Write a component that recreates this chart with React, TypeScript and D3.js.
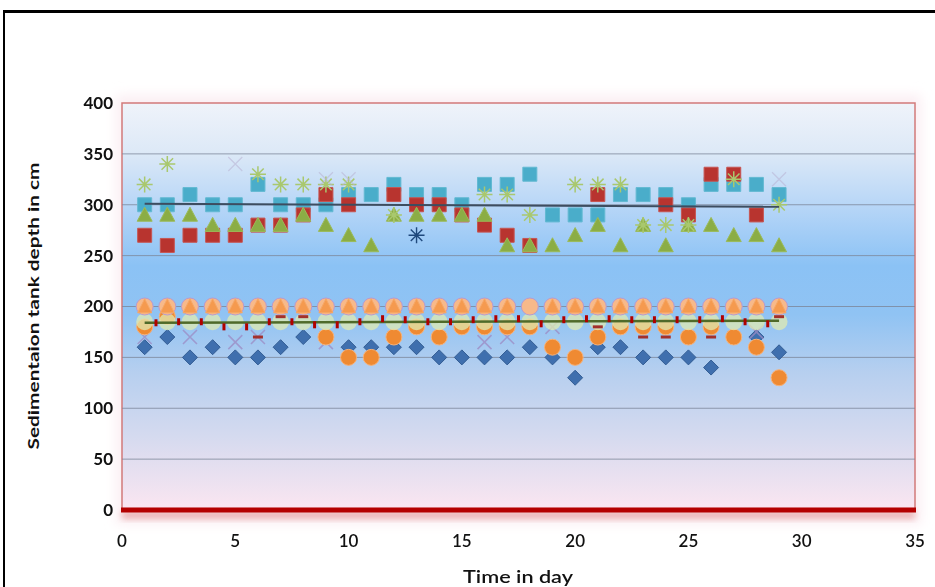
import React from 'react';
import * as d3 from 'd3';

// ---------- data ----------
const days = [1,2,3,4,5,6,7,8,9,10,11,12,13,14,15,16,17,18,19,20,21,22,23,24,25,26,27,28,29];
const xTicks = [0,5,10,15,20,25,30,35];
const yTicks = [0,50,100,150,200,250,300,350,400];

// upper group (sedimentation depth readings ~260-340)
const cyanSquare = [300,300,310,300,300,320,300,300,300,310,310,320,310,310,300,320,320,330,290,290,290,310,310,310,300,320,320,320,310];
const redSquare = [270,260,270,270,270,280,280,290,310,300,null,310,300,300,290,280,270,260,null,null,310,null,null,300,290,330,330,290,null];
const greenTriangle = [290,290,290,280,280,280,280,290,280,270,260,290,290,290,290,290,260,260,260,270,280,260,280,260,280,280,270,270,260];
const greenStar = [320,340,null,null,null,330,320,320,320,320,null,290,null,null,null,310,310,290,null,320,320,320,280,280,280,null,325,null,300];
const lavenderX = [null,null,null,null,340,null,null,null,325,325,null,null,null,null,null,null,null,null,null,null,null,null,null,null,null,null,null,null,325];
const navyStar = [null,null,null,null,null,null,null,null,null,null,null,null,270,null,null,null,null,null,null,null,null,null,null,null,null,null,null,null,null];

// lower group (~130-200)
const blueDiamond = [160,170,150,160,150,150,160,170,170,160,160,160,160,150,150,150,150,160,150,130,160,160,150,150,150,140,170,170,155];
const purpleX = [170,null,170,null,165,170,null,null,165,null,null,null,null,null,null,165,170,null,180,null,null,null,null,null,null,null,null,175,null];
const orangeCircle = [180,190,200,200,200,200,200,200,170,150,150,170,180,170,180,180,180,180,160,150,170,180,180,180,170,180,170,160,130];
const paleCircle = [185,185,185,185,185,185,185,185,185,185,185,185,185,185,185,185,185,185,185,185,185,185,185,185,185,185,185,185,185];
const peachCircle = [200,200,200,200,200,200,200,200,200,200,200,200,200,200,200,200,200,200,200,200,200,200,200,200,200,200,200,200,200];
const orangeTriangle = [200,200,200,200,200,200,200,200,200,200,200,200,200,200,200,200,200,null,200,200,200,200,200,200,200,200,200,200,200];
const redDash = [null,null,null,null,null,170,190,190,null,null,null,null,null,null,null,null,null,null,null,null,180,null,170,170,null,170,null,null,190];

const halfDays = [1.5,2.5,3.5,4.5,5.5,6.5,7.5,8.5,9.5,10.5,11.5,12.5,13.5,14.5,15.5,16.5,17.5,18.5,19.5,20.5,21.5,22.5,23.5,24.5,25.5,26.5,27.5,28.5];
const redTick = [184,185,185,180,180,185,185,182,182,185,188,187,185,185,187,188,188,183,187,188,188,187,187,187,187,188,185,183];

const trendDays = [1, 29];
const upperTrend = [301, 298];
const lowerTrend = [184, 186];

// ---------- chart ----------
const W = 935, H = 587;
const L = 122, R = 915, T = 103, B = 510;

const x = d3.scaleLinear().domain([0, 35]).range([L, R]);
const y = d3.scaleLinear().domain([0, 400]).range([B, T]);

type Pt = [number, number];
const pts = (vals: (number | null)[], xs: number[] = days): Pt[] =>
  vals.map((v, i) => [xs[i], v] as [number, number | null]).filter(p => p[1] != null) as Pt[];

const sq = (s: number) => `M${-s},${-s}h${2 * s}v${2 * s}h${-2 * s}Z`;
const diamond = (s: number) => `M0,${-s}L${s},0L0,${s}L${-s},0Z`;
const tri = (w: number, h: number) => `M0,${-h * 0.55}L${w},${h * 0.45}L${-w},${h * 0.45}Z`;
const star = (s: number) => {
  const d = s * 0.72;
  return `M0,${-s}V${s}M${-s},0H${s}M${-d},${-d}L${d},${d}M${-d},${d}L${d},${-d}`;
};
const cross = (s: number) => `M${-s},${-s}L${s},${s}M${-s},${s}L${s},${-s}`;
const circ = (r: number) => `M${-r},0a${r},${r} 0 1,0 ${2 * r},0a${r},${r} 0 1,0 ${-2 * r},0Z`;

const line = d3.line<Pt>().x(d => x(d[0])).y(d => y(d[1]));

const font = "Lato, 'Open Sans', 'DejaVu Sans', sans-serif";

function Marks({ data, path, fill, stroke, sw = 1, opacity = 1, xs }: any) {
  return (
    <g opacity={opacity}>
      {pts(data, xs).map((p, i) => (
        <path key={i} d={path} transform={`translate(${x(p[0])},${y(p[1])})`} fill={fill} stroke={stroke} strokeWidth={sw} />
      ))}
    </g>
  );
}

export default function App() {
  return (
    <svg width={W} height={H} style={{ position: 'absolute', left: 0, top: 0, background: '#fff' }}>
      <defs>
        <linearGradient id="bg" x1="0" y1="0" x2="0" y2="1">
          <stop offset="0" stopColor="#eff3fa" />
          <stop offset="0.12" stopColor="#dde9f7" />
          <stop offset="0.26" stopColor="#b5d5f7" />
          <stop offset="0.40" stopColor="#8bc2f5" />
          <stop offset="0.52" stopColor="#90c3f3" />
          <stop offset="0.66" stopColor="#b6cfef" />
          <stop offset="0.82" stopColor="#d5daef" />
          <stop offset="1" stopColor="#fbe6f1" />
        </linearGradient>
        <filter id="blur" x="-10%" y="-50%" width="120%" height="200%">
          <feGaussianBlur stdDeviation="3" />
        </filter>
        <filter id="glow" x="-5%" y="-5%" width="110%" height="110%">
          <feGaussianBlur stdDeviation="6" />
        </filter>
      </defs>

      {/* outer frame */}
      <line x1={3} x2={935} y1={11.5} y2={11.5} stroke="#000" strokeWidth={3} />
      <line x1={4} x2={4} y1={10} y2={587} stroke="#000" strokeWidth={2} />

      {/* soft glow around plot */}
      <rect x={L - 6} y={T - 8} width={R - L + 12} height={B - T + 22} fill="#fbeef3" filter="url(#glow)" />

      {/* plot area */}
      <rect x={L} y={T} width={R - L} height={B - T} fill="url(#bg)" stroke="#d27a7a" strokeWidth={1.5} />

      {/* gridlines */}
      {yTicks.filter(t => t > 0 && t < 400).map(t => (
        <line key={t} x1={L} x2={R} y1={y(t)} y2={y(t)} stroke="#7d879a" strokeWidth={1} opacity={0.8} />
      ))}

      {/* bottom bar */}
      <rect x={L} y={B + 1} width={R - L} height={8} fill="#e08a8a" opacity={0.6} filter="url(#blur)" />
      <line x1={L - 1} x2={R + 1} y1={B} y2={B} stroke="#b40000" strokeWidth={5} />

      {/* lower group */}
      <Marks data={blueDiamond} path={diamond(7.5)} fill="#3f6fae" stroke="#335d94" />
      <Marks data={purpleX} path={cross(7)} fill="none" stroke="#9c8bc4" sw={1.6} opacity={0.75} />
      <Marks data={orangeCircle} path={circ(8)} fill="#ef8a32" stroke="#f6b27a" />
      <Marks data={paleCircle} path={circ(8.5)} fill="#e0ebb2" stroke="none" opacity={0.75} />
      <Marks data={peachCircle} path={circ(8.5)} fill="#f7b98a" stroke="#b79ad0" sw={1} />
      <Marks data={orangeTriangle} path={tri(7, 14)} fill="#f59a4f" stroke="#f7a866" />

      {/* upper group */}
      <Marks data={cyanSquare} path={sq(7)} fill="#4aadca" stroke="#63b9d2" />
      <Marks data={redSquare} path={sq(7)} fill="#b8342f" stroke="#c65552" />
      <Marks data={greenTriangle} path={tri(7.5, 14)} fill="#8bad45" stroke="#9bbb59" />
      <Marks data={greenStar} path={star(8)} fill="none" stroke="#a9c86e" sw={1.5} />
      <Marks data={lavenderX} path={cross(7)} fill="none" stroke="#b9b3d3" sw={1.3} opacity={0.55} />
      <Marks data={navyStar} path={star(8)} fill="none" stroke="#1f497d" sw={1.4} />

      {/* trend lines */}
      <path d={line(pts(upperTrend, trendDays)) || ''} stroke="#3d4d60" strokeWidth={2} fill="none" />
      <path d={line(pts(lowerTrend, trendDays)) || ''} stroke="#4f6a2a" strokeWidth={2.5} fill="none" />

      <Marks data={redTick} xs={halfDays} path="M-1.5,-3.5h3v7h-3Z" fill="#b00000" stroke="none" />
      <Marks data={redDash} path="M-5,-1.5h10v3h-10Z" fill="#a3302c" stroke="none" />

      {/* y tick labels */}
      {yTicks.map(t => (
        <text key={t} x={L - 9} y={y(t)} dy="0.35em" textAnchor="end" fontFamily={font} fontWeight={700} fontSize={17} fill="#111">{t}</text>
      ))}
      {/* x tick labels */}
      {xTicks.map(t => (
        <text key={t} x={x(t)} y={541} dy="0.35em" textAnchor="middle" fontFamily={font} fontWeight={600} fontSize={17} fill="#111">{t}</text>
      ))}

      {/* axis titles */}
      <text x={518} y={577} dy="0.35em" textAnchor="middle" fontFamily={font} fontWeight={600} fontSize={17} fill="#111" textLength={110} lengthAdjust="spacingAndGlyphs">Time in day</text>
      <text transform={`translate(33,306) rotate(-90)`} dy="0.35em" textAnchor="middle" fontFamily={font} fontWeight={700} fontSize={16} fill="#111" textLength={287} lengthAdjust="spacingAndGlyphs">Sedimentaion tank depth in cm</text>
    </svg>
  );
}
